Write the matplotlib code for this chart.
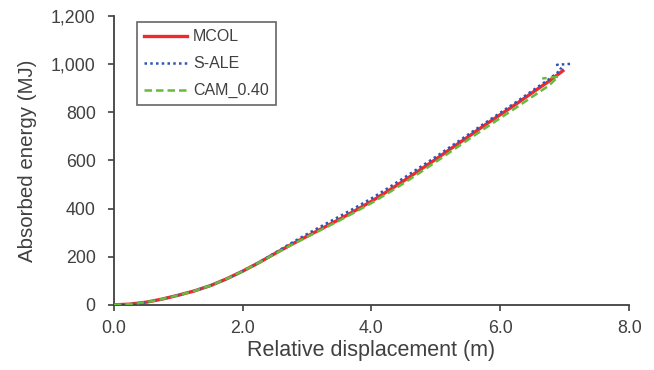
import matplotlib.pyplot as plt
from matplotlib.ticker import FuncFormatter

plt.rcParams['font.family'] = ['Liberation Sans', 'DejaVu Sans']

# absorbed energy vs relative displacement for the three models
mcol_x = [0, 0.25, 0.5, 0.75, 1.0, 1.25, 1.5, 1.75, 2.0, 2.25, 2.5, 2.75, 3.0, 3.25,
          3.5, 3.75, 4.0, 4.25, 4.5, 4.75, 5.0, 5.25, 5.5, 5.75, 6.0, 6.25, 6.5, 6.75, 6.97]
mcol_y = [0, 3, 11, 24, 40, 58, 80, 108, 140, 175, 213, 250, 285, 320,
          355, 392, 430, 472, 515, 560, 605, 652, 698, 745, 790, 835, 882, 928, 972]

sale_x = [0, 0.25, 0.5, 0.75, 1.0, 1.25, 1.5, 1.75, 2.0, 2.25, 2.5, 2.75, 3.0, 3.25,
          3.5, 3.75, 4.0, 4.25, 4.5, 4.75, 5.0, 5.25, 5.5, 5.75, 6.0, 6.25, 6.5, 6.75, 6.95, 6.88, 7.1]
sale_y = [0, 3, 11, 24, 40, 58, 80, 108, 140, 176, 216, 256, 294, 331,
          367, 404, 442, 484, 527, 571, 615, 661, 707, 753, 798, 843, 890, 936, 978, 997, 1001]

cam_x = [0, 0.25, 0.5, 0.75, 1.0, 1.25, 1.5, 1.75, 2.0, 2.25, 2.5, 2.75, 3.0, 3.25,
         3.5, 3.75, 4.0, 4.25, 4.5, 4.75, 5.0, 5.25, 5.5, 5.75, 6.0, 6.25, 6.5, 6.75, 6.9, 6.65]
cam_y = [0, 3, 11, 24, 40, 58, 80, 108, 140, 175, 212, 248, 282, 316,
         350, 386, 423, 463, 505, 549, 594, 640, 686, 731, 776, 820, 865, 910, 948, 940]

fig = plt.figure(figsize=(6.54, 3.70), dpi=100)
ax = fig.add_axes([0.174, 0.176, 0.788, 0.781])

ax.plot(mcol_x, mcol_y, color='#ee2a2f', lw=2.4, label='MCOL', zorder=2)
ax.plot(sale_x, sale_y, color='#2f55b0', lw=1.8, ls=(0, (1, 1.3)), label='S-ALE', zorder=3)
ax.plot(cam_x, cam_y, color='#66bb3a', lw=1.8, ls=(0, (3, 1.6)), label='CAM_0.40', zorder=4)

ax.set_xlim(0, 8)
ax.set_ylim(0, 1200)
ax.set_xticks([0, 2, 4, 6, 8])
ax.set_yticks(range(0, 1201, 200))
ax.xaxis.set_major_formatter(FuncFormatter(lambda v, p: f'{v:.1f}'))
ax.yaxis.set_major_formatter(FuncFormatter(lambda v, p: f'{int(v):,}'))

for s in ['top', 'right']:
    ax.spines[s].set_visible(False)
for s in ['left', 'bottom']:
    ax.spines[s].set_color('#404040')
    ax.spines[s].set_linewidth(1.3)

ax.tick_params(axis='both', direction='out', length=4, width=1.2, color='#404040',
               labelsize=12.8, labelcolor='#404040')
ax.tick_params(axis='y', pad=9)
ax.tick_params(axis='x', pad=7)

ax.set_xlabel('Relative displacement (m)', fontsize=15.5, color='#404040', labelpad=2)
ax.set_ylabel('Absorbed energy (MJ)', fontsize=14.8, color='#404040', labelpad=10)

leg = ax.legend(loc='upper left', bbox_to_anchor=(0.045, 0.979), borderaxespad=0,
                fontsize=11.5, frameon=True, fancybox=False, handlelength=2.7,
                labelspacing=0.75, borderpad=0.45, handletextpad=0.35)
leg.get_frame().set_edgecolor('#404040')
leg.get_frame().set_linewidth(1.2)
for t in leg.get_texts():
    t.set_color('#404040')

fig.savefig('out.png', dpi=100)
